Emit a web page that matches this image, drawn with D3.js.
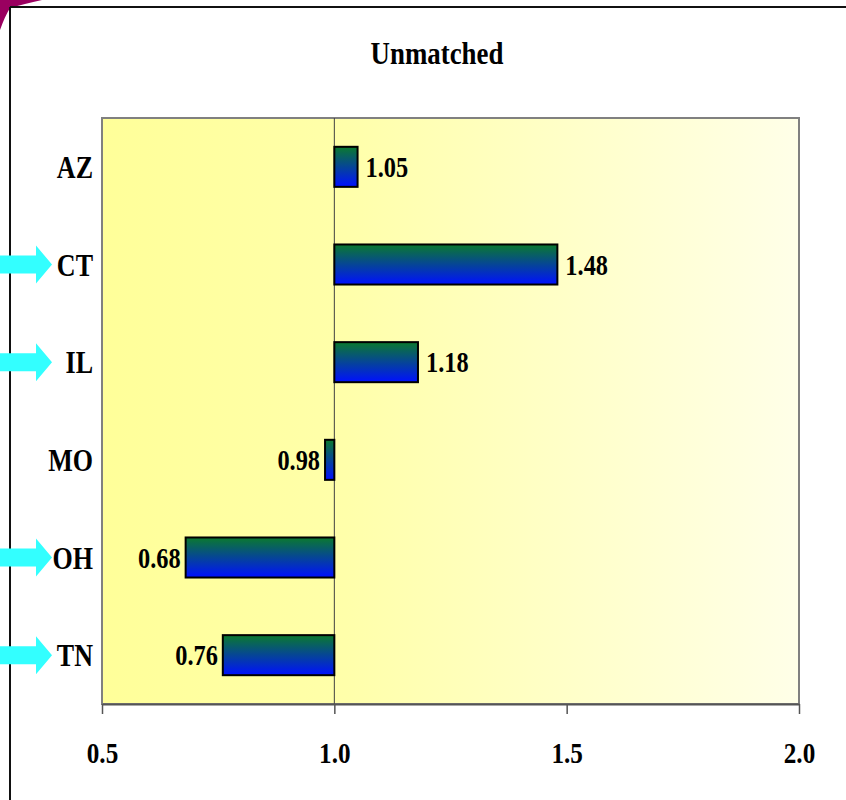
<!DOCTYPE html>
<html>
<head>
<meta charset="utf-8">
<script src="https://cdn.jsdelivr.net/npm/d3@7"></script>
<style>
  html, body { margin: 0; padding: 0; background: #fff; }
  svg { display: block; }
  text { font-family: "Liberation Serif", "Times New Roman", serif; font-weight: bold; fill: #000; }
</style>
</head>
<body>
<script>
// Ratios by state, drawn relative to a reference value of 1.0
const categories = ["AZ", "CT", "IL", "MO", "OH", "TN"];
const values = [1.05, 1.48, 1.18, 0.98, 0.68, 0.76];
const highlighted = ["CT", "IL", "OH", "TN"];
const xTicks = [0.5, 1.0, 1.5, 2.0];
const baseline = 1.0;
const title = "Unmatched";

const W = 846, H = 800;
const plot = { left: 102, right: 799, top: 118, bottom: 704 };
const squeeze = 0.84; // narrow, tall lettering

const svg = d3.select("body").append("svg").attr("width", W).attr("height", H);
const defs = svg.append("defs");

const bg = defs.append("linearGradient").attr("id", "plotBg")
  .attr("x1", "0%").attr("x2", "100%").attr("y1", "0%").attr("y2", "0%");
bg.append("stop").attr("offset", "0%").attr("stop-color", "#ffff99");
bg.append("stop").attr("offset", "35%").attr("stop-color", "#ffffaa");
bg.append("stop").attr("offset", "100%").attr("stop-color", "#ffffe8");

const barGrad = defs.append("linearGradient").attr("id", "barFill")
  .attr("x1", "0%").attr("x2", "0%").attr("y1", "0%").attr("y2", "100%");
barGrad.append("stop").attr("offset", "0%").attr("stop-color", "#0b7a2e");
barGrad.append("stop").attr("offset", "100%").attr("stop-color", "#0010ff");

// corner ornament and outer frame
svg.append("path")
  .attr("d", "M0,0 L42,0 Q24,4 10,8 Q5,16 0,30 Z")
  .attr("fill", "#9a0060");
svg.append("line").attr("x1", 10).attr("x2", W).attr("y1", 7).attr("y2", 7)
  .attr("stroke", "#111").attr("stroke-width", 2);
svg.append("line").attr("x1", 10).attr("x2", 10).attr("y1", 7).attr("y2", H)
  .attr("stroke", "#111").attr("stroke-width", 2);

const x = d3.scaleLinear().domain([0.5, 2.0]).range([plot.left, plot.right]);
const y = d3.scaleBand().domain(categories).range([plot.top, plot.bottom]).paddingInner(0.59).paddingOuter(0.295);

// plot area
svg.append("rect")
  .attr("x", plot.left).attr("y", plot.top)
  .attr("width", plot.right - plot.left).attr("height", plot.bottom - plot.top)
  .attr("fill", "url(#plotBg)")
  .attr("stroke", "#808080").attr("stroke-width", 2);

// reference line at 1.0
svg.append("line")
  .attr("x1", x(baseline)).attr("x2", x(baseline))
  .attr("y1", plot.top).attr("y2", plot.bottom)
  .attr("stroke", "#404040").attr("stroke-width", 1);

// x axis
const xAxis = d3.axisBottom(x).tickValues(xTicks).tickFormat(d3.format(".1f"))
  .tickSize(10).tickSizeOuter(0).tickPadding(30);
const gx = svg.append("g").attr("transform", `translate(0,${plot.bottom})`).call(xAxis);
gx.select(".domain").attr("stroke", "#555").attr("stroke-width", 2);
gx.selectAll(".tick line").attr("stroke", "#555").attr("stroke-width", 1.5);
gx.selectAll(".tick text")
  .attr("font-family", "'Liberation Serif', 'Times New Roman', serif")
  .attr("font-weight", "bold").attr("font-size", 30).attr("fill", "#000")
  .attr("y", 38).attr("dy", "0.71em")
  .attr("transform", `scale(${squeeze},1)`);

// title
svg.append("text")
  .attr("transform", `translate(437,64) scale(${squeeze},1)`)
  .attr("text-anchor", "middle")
  .attr("font-size", 32).text(title);

// bars
const rows = categories.map((c, i) => ({ cat: c, val: values[i] }));
svg.selectAll("rect.bar").data(rows).join("rect")
  .attr("class", "bar")
  .attr("x", d => x(Math.min(d.val, baseline)))
  .attr("y", d => y(d.cat))
  .attr("width", d => Math.abs(x(d.val) - x(baseline)))
  .attr("height", y.bandwidth())
  .attr("fill", "url(#barFill)")
  .attr("stroke", "#000").attr("stroke-width", 2);

// value labels
svg.selectAll("text.val").data(rows).join("text")
  .attr("class", "val")
  .attr("transform", d => {
    const tx = d.val >= baseline ? x(d.val) + 8 : x(d.val) - 5;
    const ty = y(d.cat) + y.bandwidth() / 2 + 10;
    return `translate(${tx},${ty}) scale(${squeeze},1)`;
  })
  .attr("text-anchor", d => d.val >= baseline ? "start" : "end")
  .attr("font-size", 29)
  .text(d => d3.format(".2f")(d.val));

// category labels
svg.selectAll("text.cat").data(categories).join("text")
  .attr("class", "cat")
  .attr("transform", d => `translate(93,${y(d) + y.bandwidth() / 2 + 11}) scale(${squeeze},1)`)
  .attr("text-anchor", "end")
  .attr("font-size", 31)
  .text(d => d);

// arrows pointing at highlighted states
const arrow = d3.line();
svg.selectAll("path.arrow").data(highlighted).join("path")
  .attr("class", "arrow")
  .attr("d", d => {
    const cy = y(d) + y.bandwidth() / 2;
    return arrow([[0, cy - 9], [36, cy - 9], [36, cy - 19], [52, cy], [36, cy + 19], [36, cy + 9], [0, cy + 9]]) + "Z";
  })
  .attr("fill", "#33ffff");
</script>
</body>
</html>
